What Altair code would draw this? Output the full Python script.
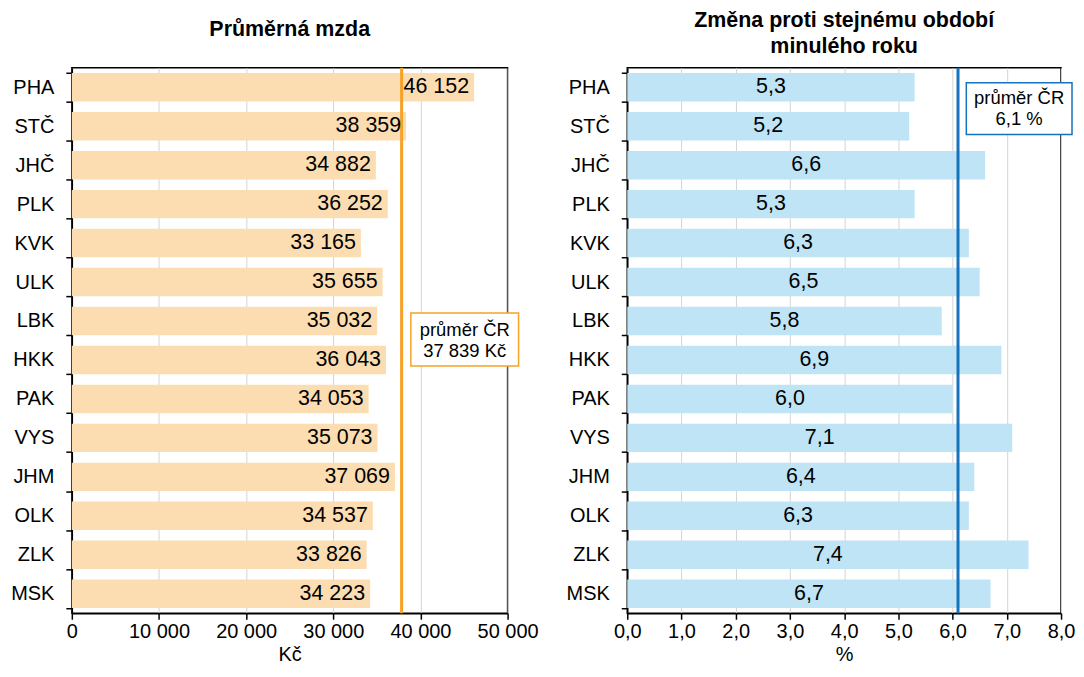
import altair as alt
import pandas as pd

regions = ["PHA", "STČ", "JHČ", "PLK", "KVK", "ULK", "LBK", "HKK", "PAK", "VYS", "JHM", "OLK", "ZLK", "MSK"]
wages = [46152, 38359, 34882, 36252, 33165, 35655, 35032, 36043, 34053, 35073, 37069, 34537, 33826, 34223]
changes = [5.3, 5.2, 6.6, 5.3, 6.3, 6.5, 5.8, 6.9, 6.0, 7.1, 6.4, 6.3, 7.4, 6.7]
avg_wage = 37839
avg_change = 6.1
wage_ticks = [0, 10000, 20000, 30000, 40000, 50000]
change_ticks = [0, 1, 2, 3, 4, 5, 6, 7, 8]

FONT = "Liberation Sans"
BAR_L = "#FCDDB1"
BAR_R = "#BEE4F6"
LINE_L = "#F6A229"
LINE_R = "#1772BD"

df = pd.DataFrame({
    "region": regions,
    "wage": wages,
    "change": changes,
    "wage_label": [f"{w:,}".replace(",", " ") for w in wages],
    "change_label": [f"{c:.1f}".replace(".", ",") for c in changes],
})

def y_enc():
    return alt.Y(
        "region:N", sort=regions, title=None,
        scale=alt.Scale(paddingInner=0.27, paddingOuter=0.135),
        axis=alt.Axis(tickBand="extent", labelFontSize=20, labelFont=FONT, labelColor="black",
                      tickColor="black", tickSize=6, tickWidth=1.5, domainColor="black",
                      domainWidth=1.5, labelPadding=12, grid=False),
    )

def x_axis(ticks, expr, title):
    return alt.Axis(values=ticks, labelExpr=expr, title=title, grid=True, gridColor="#D4D4D4",
                    gridWidth=1, labelFontSize=20, labelFont=FONT, labelColor="black",
                    tickColor="black", tickSize=6, tickWidth=1.5, domainColor="black",
                    domainWidth=1.5, labelPadding=2, titleFontSize=20, titleFont=FONT,
                    titleFontWeight="normal", titleColor="black", titlePadding=3,
                    labelFlush=False, labelOverlap=False)

H = 547

# ---- Left panel
xl_scale = alt.Scale(domain=[0, 50000], nice=False)
xl_axis = x_axis(wage_ticks, "replace(format(datum.value, ','), ',', ' ')", "Kč")
base_l = alt.Chart(df)
bars_l = base_l.mark_bar(color=BAR_L).encode(
    x=alt.X("wage:Q", scale=xl_scale, axis=xl_axis),
    y=y_enc(),
)
text_l = base_l.mark_text(align="right", dx=-5, fontSize=21.5, font=FONT, color="black").encode(
    x=alt.X("wage:Q", scale=xl_scale, axis=xl_axis),
    y=y_enc(),
    text="wage_label:N",
)
avg_df_l = pd.DataFrame({"v": [avg_wage]})
rule_l = alt.Chart(avg_df_l).mark_rule(color=LINE_L, strokeWidth=3).encode(
    x=alt.X("v:Q", scale=xl_scale, axis=xl_axis)
)
box_l = alt.Chart(avg_df_l).mark_rect(fill="white", stroke=LINE_L, strokeWidth=1.5).encode(
    x=alt.value(340), x2=alt.value(448), y=alt.value(246), y2=alt.value(299)
)
box_text_l = alt.Chart(avg_df_l).mark_text(fontSize=18.5, font=FONT, color="black", lineHeight=21,
                                           align="center", baseline="middle").encode(
    x=alt.value(394), y=alt.value(263),
    text=alt.value(["průměr ČR", f"{avg_wage:,}".replace(",", " ") + " Kč"]),
)
left = alt.layer(bars_l, rule_l, text_l, box_l, box_text_l).properties(
    width=437, height=H,
    title=alt.TitleParams("Průměrná mzda", fontSize=21.5, font=FONT, fontWeight="bold",
                          color="black", offset=17, anchor="middle"),
)

# ---- Right panel
xr_scale = alt.Scale(domain=[0, 8], nice=False)
xr_axis = x_axis(change_ticks, "replace(format(datum.value, '.1f'), '.', ',')", "%")
base_r = alt.Chart(df)
bars_r = base_r.mark_bar(color=BAR_R).encode(
    x=alt.X("change:Q", scale=xr_scale, axis=xr_axis),
    y=y_enc(),
)
text_r = base_r.transform_calculate(mid="datum.change / 2").mark_text(
    align="center", fontSize=21.5, font=FONT, color="black").encode(
    x=alt.X("mid:Q", scale=xr_scale, axis=xr_axis),
    y=y_enc(),
    text="change_label:N",
)
avg_df_r = pd.DataFrame({"v": [avg_change]})
rule_r = alt.Chart(avg_df_r).mark_rule(color=LINE_R, strokeWidth=3).encode(
    x=alt.X("v:Q", scale=xr_scale, axis=xr_axis)
)
box_r = alt.Chart(avg_df_r).mark_rect(fill="white", stroke=LINE_R, strokeWidth=1.5).encode(
    x=alt.value(340), x2=alt.value(446), y=alt.value(15), y2=alt.value(67)
)
box_text_r = alt.Chart(avg_df_r).mark_text(fontSize=18.5, font=FONT, color="black", lineHeight=21,
                                           align="center", baseline="middle").encode(
    x=alt.value(393), y=alt.value(30),
    text=alt.value(["průměr ČR", f"{avg_change:.1f}".replace(".", ",") + " %"]),
)
right = alt.layer(bars_r, rule_r, text_r, box_r, box_text_r).properties(
    width=435, height=H,
    title=alt.TitleParams(["Změna proti stejnému období", "minulého roku"], fontSize=21.5, font=FONT,
                          fontWeight="bold", color="black", offset=0, lineHeight=26,
                          anchor="middle"),
)

chart = alt.hconcat(left, right, spacing=25).properties(
    padding={"left": 1, "top": 0, "right": 0, "bottom": 0},
    background="white",
).configure_view(stroke="black", strokeWidth=1.5)

chart.save("out.html", embed_options={"renderer": "svg", "actions": False})
